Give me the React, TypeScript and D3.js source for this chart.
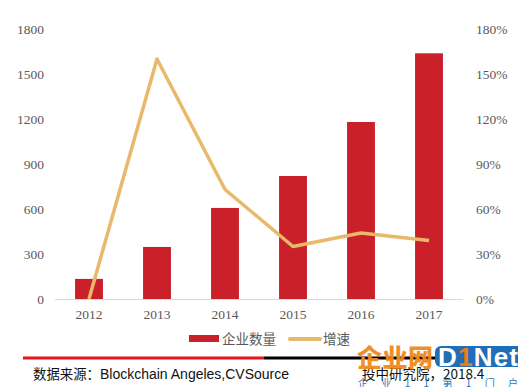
import { useEffect, useRef } from 'react';
import * as d3 from 'd3';

const years = ['2012', '2013', '2014', '2015', '2016', '2017'];
const companyCount = [134, 347, 607, 820, 1180, 1638];
const growthRate = [0, 160, 73, 35, 44, 39];
const leftTicks = [0, 300, 600, 900, 1200, 1500, 1800];
const rightTicks = [0, 30, 60, 90, 120, 150, 180];
const legendLabels = ['企业数量', '增速'];

const WIDTH = 518;
const HEIGHT = 387;
const BAR_COLOR = '#c9202a';
const LINE_COLOR = '#e8b96b';
const TEXT_COLOR = '#595959';

export default function App() {
  const svgRef = useRef<SVGSVGElement>(null);

  useEffect(() => {
    if (!svgRef.current) return;
    const svg = d3.select(svgRef.current);
    svg.selectAll('*').remove();

    const plot = { left: 55, right: 463, top: 29, bottom: 299 };

    const x = d3.scaleBand<string>()
      .domain(years)
      .range([plot.left, plot.right])
      .paddingInner(0.59)
      .paddingOuter(0.295);

    const yLeft = d3.scaleLinear().domain([0, 1800]).range([plot.bottom, plot.top]);
    const yRight = d3.scaleLinear().domain([0, 180]).range([plot.bottom, plot.top]);

    // left axis labels
    svg.append('g')
      .selectAll('text')
      .data(leftTicks)
      .enter()
      .append('text')
      .attr('x', 44)
      .attr('y', d => yLeft(d))
      .attr('dy', '0.35em')
      .attr('text-anchor', 'end')
      .attr('fill', TEXT_COLOR)
      .style('font-family', '"Liberation Serif", serif')
      .style('font-size', '13.5px')
      .text(d => String(d));

    // right axis labels
    svg.append('g')
      .selectAll('text')
      .data(rightTicks)
      .enter()
      .append('text')
      .attr('x', 476)
      .attr('y', d => yRight(d))
      .attr('dy', '0.35em')
      .attr('text-anchor', 'start')
      .attr('fill', TEXT_COLOR)
      .style('font-family', '"Liberation Serif", serif')
      .style('font-size', '13.5px')
      .text(d => `${d}%`);

    // bars
    svg.append('g')
      .selectAll('rect')
      .data(companyCount)
      .enter()
      .append('rect')
      .attr('x', (_, i) => x(years[i])!)
      .attr('width', x.bandwidth())
      .attr('y', d => yLeft(d))
      .attr('height', d => plot.bottom - yLeft(d))
      .attr('fill', BAR_COLOR);

    // baseline
    svg.append('line')
      .attr('x1', plot.left)
      .attr('x2', plot.right)
      .attr('y1', plot.bottom + 0.5)
      .attr('y2', plot.bottom + 0.5)
      .attr('stroke', '#d9d9d9')
      .attr('stroke-width', 1);

    // x labels
    svg.append('g')
      .selectAll('text')
      .data(years)
      .enter()
      .append('text')
      .attr('x', d => x(d)! + x.bandwidth() / 2)
      .attr('y', 319)
      .attr('text-anchor', 'middle')
      .attr('fill', TEXT_COLOR)
      .style('font-family', '"Liberation Serif", serif')
      .style('font-size', '13.5px')
      .text(d => d);

    // growth line
    const line = d3.line<number>()
      .x((_, i) => x(years[i])! + x.bandwidth() / 2)
      .y(d => yRight(d));

    svg.append('path')
      .datum(growthRate)
      .attr('d', line)
      .attr('fill', 'none')
      .attr('stroke', LINE_COLOR)
      .attr('stroke-width', 3.5)
      .attr('stroke-linejoin', 'round');

    // legend
    const legend = svg.append('g');
    legend.append('rect')
      .attr('x', 189).attr('y', 335).attr('width', 30).attr('height', 7)
      .attr('fill', BAR_COLOR);
    legend.append('text')
      .attr('x', 222).attr('y', 339).attr('dy', '0.35em')
      .attr('fill', TEXT_COLOR)
      .style('font-family', '"Noto Sans CJK SC", sans-serif')
      .style('font-size', '13.5px')
      .text(legendLabels[0]);
    legend.append('line')
      .attr('x1', 290).attr('x2', 320).attr('y1', 339).attr('y2', 339)
      .attr('stroke', LINE_COLOR).attr('stroke-width', 4).attr('stroke-linecap', 'round');
    legend.append('text')
      .attr('x', 323).attr('y', 339).attr('dy', '0.35em')
      .attr('fill', TEXT_COLOR)
      .style('font-family', '"Noto Sans CJK SC", sans-serif')
      .style('font-size', '13.5px')
      .text(legendLabels[1]);

    // footer rule
    svg.append('line')
      .attr('x1', 23).attr('x2', 264).attr('y1', 358).attr('y2', 358)
      .attr('stroke', '#e8141c').attr('stroke-width', 3);
    svg.append('line')
      .attr('x1', 264).attr('x2', 505).attr('y1', 358).attr('y2', 358)
      .attr('stroke', '#000').attr('stroke-width', 3);

    // source
    const src = svg.append('text')
      .attr('x', 33).attr('y', 379)
      .attr('fill', '#111')
      .style('font-size', '14px');
    src.append('tspan')
      .style('font-family', '"Noto Sans CJK SC", sans-serif')
      .style('font-size', '13.4px')
      .text('数据来源：');
    src.append('tspan')
      .style('font-family', '"Liberation Sans", Arial, sans-serif')
      .text('Blockchain Angeles,CVSource');

    svg.append('text')
      .attr('x', 362).attr('y', 379)
      .attr('fill', '#111')
      .style('font-family', '"Noto Sans CJK SC", sans-serif')
      .style('font-size', '13.5px')
      .text('投中研究院，2018.4');

    // watermark
    svg.append('text')
      .attr('x', 357).attr('y', 367)
      .attr('fill', '#f08a1c')
      .attr('opacity', 0.95)
      .style('font-family', '"Noto Sans CJK SC", sans-serif')
      .style('font-weight', '900')
      .style('font-size', '25px')
      .attr('textLength', 76)
      .text('企业网');
    svg.append('rect')
      .attr('x', 435).attr('y', 346).attr('width', 90).attr('height', 21).attr('rx', 6)
      .attr('fill', '#1f6fb8');
    const net = svg.append('text')
      .attr('x', 438).attr('y', 366)
      .attr('fill', '#fff')
      .attr('textLength', 80)
      .style('font-family', '"Liberation Sans", Arial, sans-serif')
      .style('font-weight', 'bold')
      .style('font-size', '26px');
    net.append('tspan').text('D');
    net.append('tspan').attr('fill', '#f07a1a').text('1');
    net.append('tspan').text('Net');
    svg.append('text')
      .attr('x', 358).attr('y', 387)
      .attr('fill', '#2a78c2')
      .style('font-family', '"Noto Sans CJK SC", sans-serif')
      .style('font-size', '10px')
      .attr('textLength', 160)
      .text('企 业 1 1 第 1 门 户');
  }, []);

  return (
    <svg
      ref={svgRef}
      width={WIDTH}
      height={HEIGHT}
      style={{ position: 'absolute', left: 0, top: 0, display: 'block', background: '#fff' }}
    />
  );
}
